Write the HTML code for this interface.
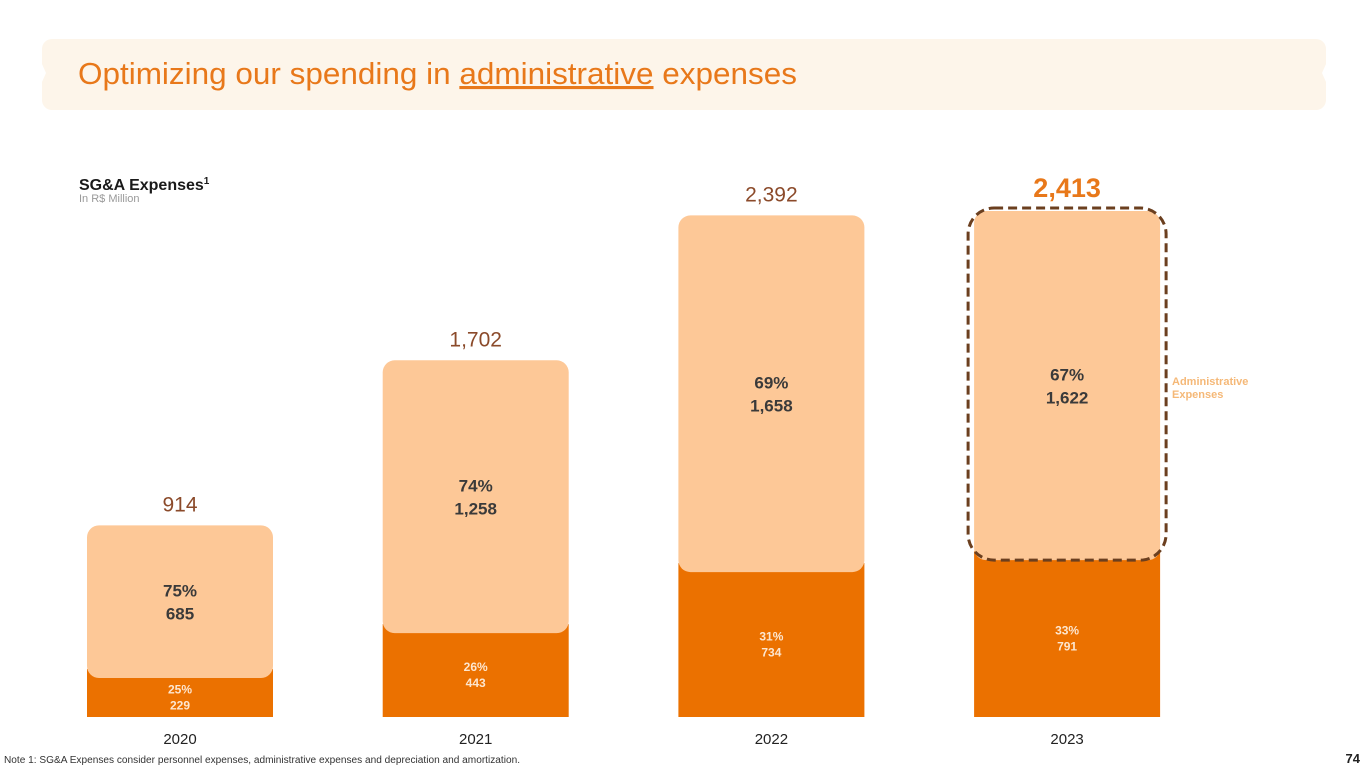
<!DOCTYPE html>
<html><head><meta charset="utf-8"><style>
html,body{margin:0;padding:0;background:#fff;width:1365px;height:768px;overflow:hidden;font-family:"Liberation Sans",sans-serif}
</style></head><body>
<svg width="1365" height="768" viewBox="0 0 1365 768" id="chart">
<path d="M52 39 H1316 a10 10 0 0 1 10 10 V64 l-4 9 4 9 V100 a10 10 0 0 1 -10 10 H52 a10 10 0 0 1 -10 -10 V82 l4 -9 -4 -9 V49 a10 10 0 0 1 10 -10 Z" fill="#fdf5ea"/>
<text x="78" y="84" font-size="31" fill="#e8781a" textLength="719" lengthAdjust="spacingAndGlyphs">Optimizing our spending in <tspan text-decoration="underline">administrative</tspan> expenses</text>
<text x="79" y="190" font-size="16" font-weight="bold" fill="#1a1a1a">SG&amp;A Expenses<tspan font-size="10" dy="-6">1</tspan></text>
<text x="79" y="202" font-size="11" fill="#999">In R$ Million</text>
<g id="bars"></g>
<text x="1172" y="385" font-size="11" font-weight="bold" fill="#f5b877">Administrative</text>
<text x="1172" y="398" font-size="11" font-weight="bold" fill="#f5b877">Expenses</text>
<text x="4" y="763" font-size="10" fill="#333" textLength="516" lengthAdjust="spacingAndGlyphs">Note 1: SG&amp;A Expenses consider personnel expenses, administrative expenses and depreciation and amortization.</text>
<text x="1360" y="763" font-size="13" font-weight="bold" text-anchor="end" fill="#222">74</text>
</svg>
<script>
const years = ["2020","2021","2022","2023"];
const darkValues = [229,443,734,791];
const lightValues = [685,1258,1658,1622];
const darkPct = ["25%","26%","31%","33%"];
const lightPct = ["75%","74%","69%","67%"];
const totalLabels = ["914","1,702","2,392","2,413"];

const NS="http://www.w3.org/2000/svg";
const g=document.getElementById('bars');
const base=717, maxV=2413, plotTop=211;
function y(v){return base-(v/maxV)*(base-plotTop);}
function xLeft(i){return 87+i*295.7;}
const bw=186;
function mk(tag,attrs,text){const e=document.createElementNS(NS,tag);for(const k in attrs)e.setAttribute(k,attrs[k]);if(text!==undefined)e.textContent=text;g.appendChild(e);return e;}
years.forEach((yr,i)=>{
  const x=xLeft(i), cx=x+bw/2;
  const dTop=y(darkValues[i]);
  const tTop=y(darkValues[i]+lightValues[i]);
  const d=mk('rect',{x:x,y:dTop,width:bw,height:base-dTop,fill:'#eb7100'});
  
  
  const lb=dTop+9;
  const l=mk('rect',{x:x,y:tTop,width:bw,height:lb-tTop,rx:12,ry:12,fill:'#fdc897'});
  
  
  const lm=(tTop+lb)/2;
  const t1=mk('text',{x:cx,y:lm-5,'font-size':17,'font-weight':'bold','text-anchor':'middle',fill:'#3a3a3a'},lightPct[i]);
  
  
  const t2=mk('text',{x:cx,y:lm+18,'font-size':17,'font-weight':'bold','text-anchor':'middle',fill:'#3a3a3a'},lightValues[i].toLocaleString('en-US'));
  
  
  const dm=(lb+base)/2;
  const t3=mk('text',{x:cx,y:dm-4,'font-size':12,'font-weight':'bold','text-anchor':'middle',fill:'#fde6cf'},darkPct[i]);
  
  
  const t4=mk('text',{x:cx,y:dm+12,'font-size':12,'font-weight':'bold','text-anchor':'middle',fill:'#fde6cf'},darkValues[i].toLocaleString('en-US'));
  
  
  const last=i===years.length-1;
  const t5=mk('text',{x:cx,y:tTop-14,'font-size':last?27:21,'font-weight':last?'bold':'normal','text-anchor':'middle',fill:last?'#e8781a':'#8b4a2a'},totalLabels[i]);
  
  
  const t6=mk('text',{x:cx,y:744,'font-size':15,'text-anchor':'middle',fill:'#222'},yr);
  
  
  if(last){
    const hb=mk('rect',{x:x-6,y:tTop-3,width:bw+12,height:lb-tTop+3,rx:26,ry:26,fill:'none',stroke:'#6b3f1f','stroke-width':3,'stroke-dasharray':'9 5'});
    
    
  }
});
</script>
</body></html>
